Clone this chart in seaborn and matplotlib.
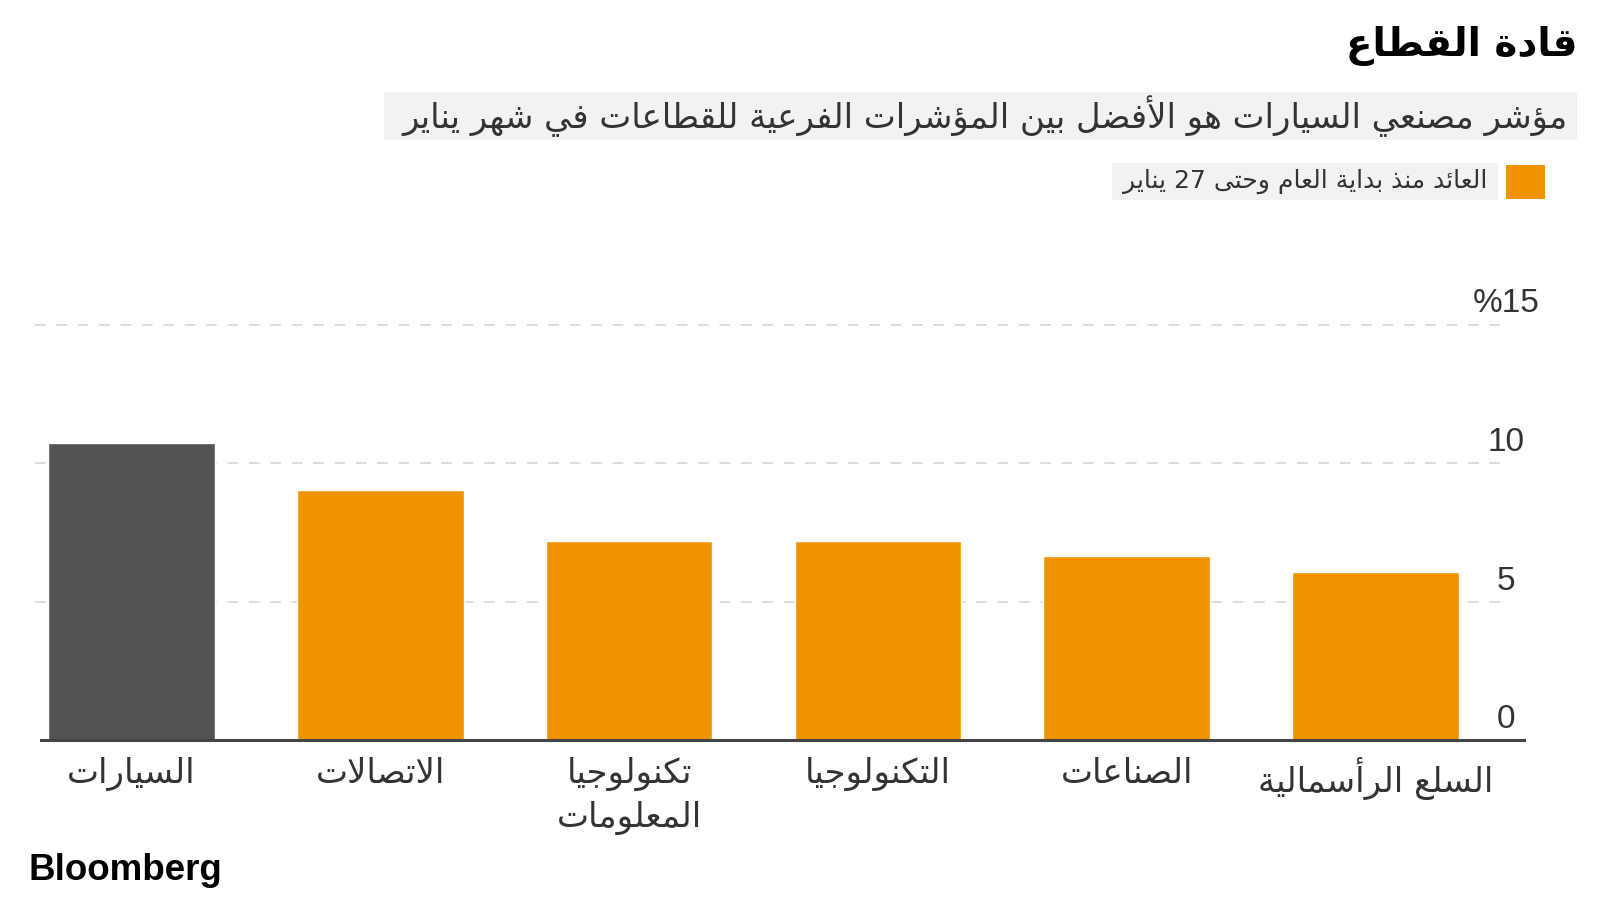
import re
import matplotlib
matplotlib.use("Agg")
import matplotlib.pyplot as plt
from matplotlib.patches import Rectangle
from matplotlib.transforms import ScaledTranslation
import seaborn as sns
import pandas as pd

# ---------------- data ----------------
sectors = ["السيارات", "الاتصالات", "تكنولوجيا\nالمعلومات", "التكنولوجيا", "الصناعات", "السلع الرأسمالية"]
ytd_return = [10.73, 9.03, 7.18, 7.18, 6.64, 6.06]
highlight = ["السيارات"]
y_ticks = [0, 5, 10, 15]
y_tick_labels = ["0", "5", "10", "%15"]
title = "قادة القطاع"
subtitle = "مؤشر مصنعي السيارات هو الأفضل بين المؤشرات الفرعية للقطاعات في شهر يناير"
legend_label = "العائد منذ بداية العام وحتى 27 يناير"
source = "Bloomberg"

ORANGE = "#F09300"
DARK = "#535353"
TXT = "#333333"

# ------------- minimal Arabic shaping (presentation forms) + visual ordering -------------
DUAL = {'ئ': 0xFE89, 'ب': 0xFE8F, 'ت': 0xFE95, 'ث': 0xFE99, 'ج': 0xFE9D, 'ح': 0xFEA1, 'خ': 0xFEA5,
        'س': 0xFEB1, 'ش': 0xFEB5, 'ص': 0xFEB9, 'ض': 0xFEBD, 'ط': 0xFEC1, 'ظ': 0xFEC5, 'ع': 0xFEC9,
        'غ': 0xFECD, 'ف': 0xFED1, 'ق': 0xFED5, 'ك': 0xFED9, 'ل': 0xFEDD, 'م': 0xFEE1, 'ن': 0xFEE5,
        'ه': 0xFEE9, 'ي': 0xFEF1}
RIGHT = {'آ': 0xFE81, 'أ': 0xFE83, 'ؤ': 0xFE85, 'إ': 0xFE87, 'ا': 0xFE8D, 'ة': 0xFE93, 'د': 0xFEA9,
         'ذ': 0xFEAB, 'ر': 0xFEAD, 'ز': 0xFEAF, 'و': 0xFEED, 'ى': 0xFEEF}
LAMALEF = {'آ': 0xFEF5, 'أ': 0xFEF7, 'إ': 0xFEF9, 'ا': 0xFEFB}
LTR = r'[0-9A-Za-z%.,]'


def _shape_line(line):
    units = []
    i = 0
    while i < len(line):
        c = line[i]
        if c == 'ل' and i + 1 < len(line) and line[i + 1] in LAMALEF:
            units.append((LAMALEF[line[i + 1]], 'R'))
            i += 2
            continue
        if c in DUAL:
            units.append((DUAL[c], 'D'))
        elif c in RIGHT:
            units.append((RIGHT[c], 'R'))
        else:
            units.append((c, 'N'))
        i += 1
    out = []
    for k, (b, kind) in enumerate(units):
        if kind == 'N':
            out.append(b)
            continue
        prev = units[k - 1][1] if k > 0 else 'N'
        nxt = units[k + 1][1] if k + 1 < len(units) else 'N'
        jp = prev == 'D'
        jn = kind == 'D' and nxt in ('D', 'R')
        if kind == 'D':
            off = 3 if (jp and jn) else 1 if jp else 2 if jn else 0
        else:
            off = 1 if jp else 0
        out.append(chr(b + off))
    s = ''.join(out)
    runs = re.findall(LTR + r'+|[^0-9A-Za-z%.,]+', s)
    return ''.join(r if re.match(LTR, r) else r[::-1] for r in reversed(runs))


def ar(text):
    return '\n'.join(_shape_line(l) for l in text.split('\n'))


# ---------------- figure ----------------
sns.set_theme(style="white")
plt.rcParams['font.family'] = ['DejaVu Sans']

W, H = 1600, 900
fig = plt.figure(figsize=(16, 9), dpi=100)
fig.patch.set_facecolor("white")

ax_left, ax_right = 41, 1523.5
ax_top, ax_bottom = 324.5, 740
ax = fig.add_axes([ax_left / W, 1 - ax_bottom / H, (ax_right - ax_left) / W, (ax_bottom - ax_top) / H])

df = pd.DataFrame({"sector": sectors, "ytd": ytd_return})
palette = {s: (DARK if s in highlight else ORANGE) for s in sectors}
sns.barplot(data=df, x="sector", y="ytd", hue="sector", palette=palette, legend=False,
            width=0.67, saturation=1, ax=ax, zorder=3)

ax.set_xlim(-0.3637, 5.595)
ax.set_ylim(0, 15)
ax.set_xlabel("")
ax.set_ylabel("")

# gridlines (dashed) for nonzero ticks
for t in y_ticks[1:]:
    ax.axhline(t, xmin=-0.004, xmax=0.984, color="#D3D3D3", lw=1.1, dashes=(7, 7), zorder=1, clip_on=False)

for s in ["top", "left", "right"]:
    ax.spines[s].set_visible(False)
ax.spines["bottom"].set_color("#444444")
ax.spines["bottom"].set_linewidth(2.2)
ax.spines["bottom"].set_zorder(4)

# y ticks on the right, centred above gridlines
ax.yaxis.tick_right()
ax.set_yticks(y_ticks)
ax.set_yticklabels(y_tick_labels, fontfamily="Liberation Sans", fontsize=24, color=TXT)
ax.tick_params(axis="y", length=0, pad=-12.6)
lift = ScaledTranslation(0, 5 / 100, fig.dpi_scale_trans)
for lbl in ax.get_yticklabels():
    lbl.set_ha("center")
    lbl.set_va("bottom")
    lbl.set_transform(lbl.get_transform() + lift)

# x tick labels
ax.set_xticks(range(len(sectors)))
ax.set_xticklabels([ar(s) for s in sectors], fontsize=24.5, color=TXT, linespacing=1.4)
ax.tick_params(axis="x", length=0, pad=12)

# ---------------- title block ----------------
fig.text(1577 / W, 1 - 46 / H, ar(title), ha="right", va="center", fontsize=28,
         fontweight="bold", color="black")

fig.patches.append(Rectangle((384 / W, 1 - 140 / H), (1577 - 384) / W, 48 / H,
                             transform=fig.transFigure, facecolor="#F2F2F2", edgecolor="none", zorder=0))
fig.text(1568 / W, 1 - 116 / H, ar(subtitle), ha="right", va="center", fontsize=24.4, color=TXT, zorder=2)

# legend
fig.patches.append(Rectangle((1112 / W, 1 - 200 / H), (1498 - 1112) / W, 37 / H,
                             transform=fig.transFigure, facecolor="#F2F2F2", edgecolor="none", zorder=0))
fig.patches.append(Rectangle((1506 / W, 1 - 199 / H), 39 / W, 34 / H,
                             transform=fig.transFigure, facecolor=ORANGE, edgecolor="none", zorder=1))
fig.text(1487 / W, 1 - 181 / H, ar(legend_label), ha="right", va="center", fontsize=18, color=TXT, zorder=2)

# source logo
fig.text(28 / W, 1 - 871 / H, source, ha="left", va="center", fontsize=26.5, fontweight="bold",
         fontfamily="Liberation Sans", color="black")

fig.savefig("out.png", dpi=100, facecolor="white")
